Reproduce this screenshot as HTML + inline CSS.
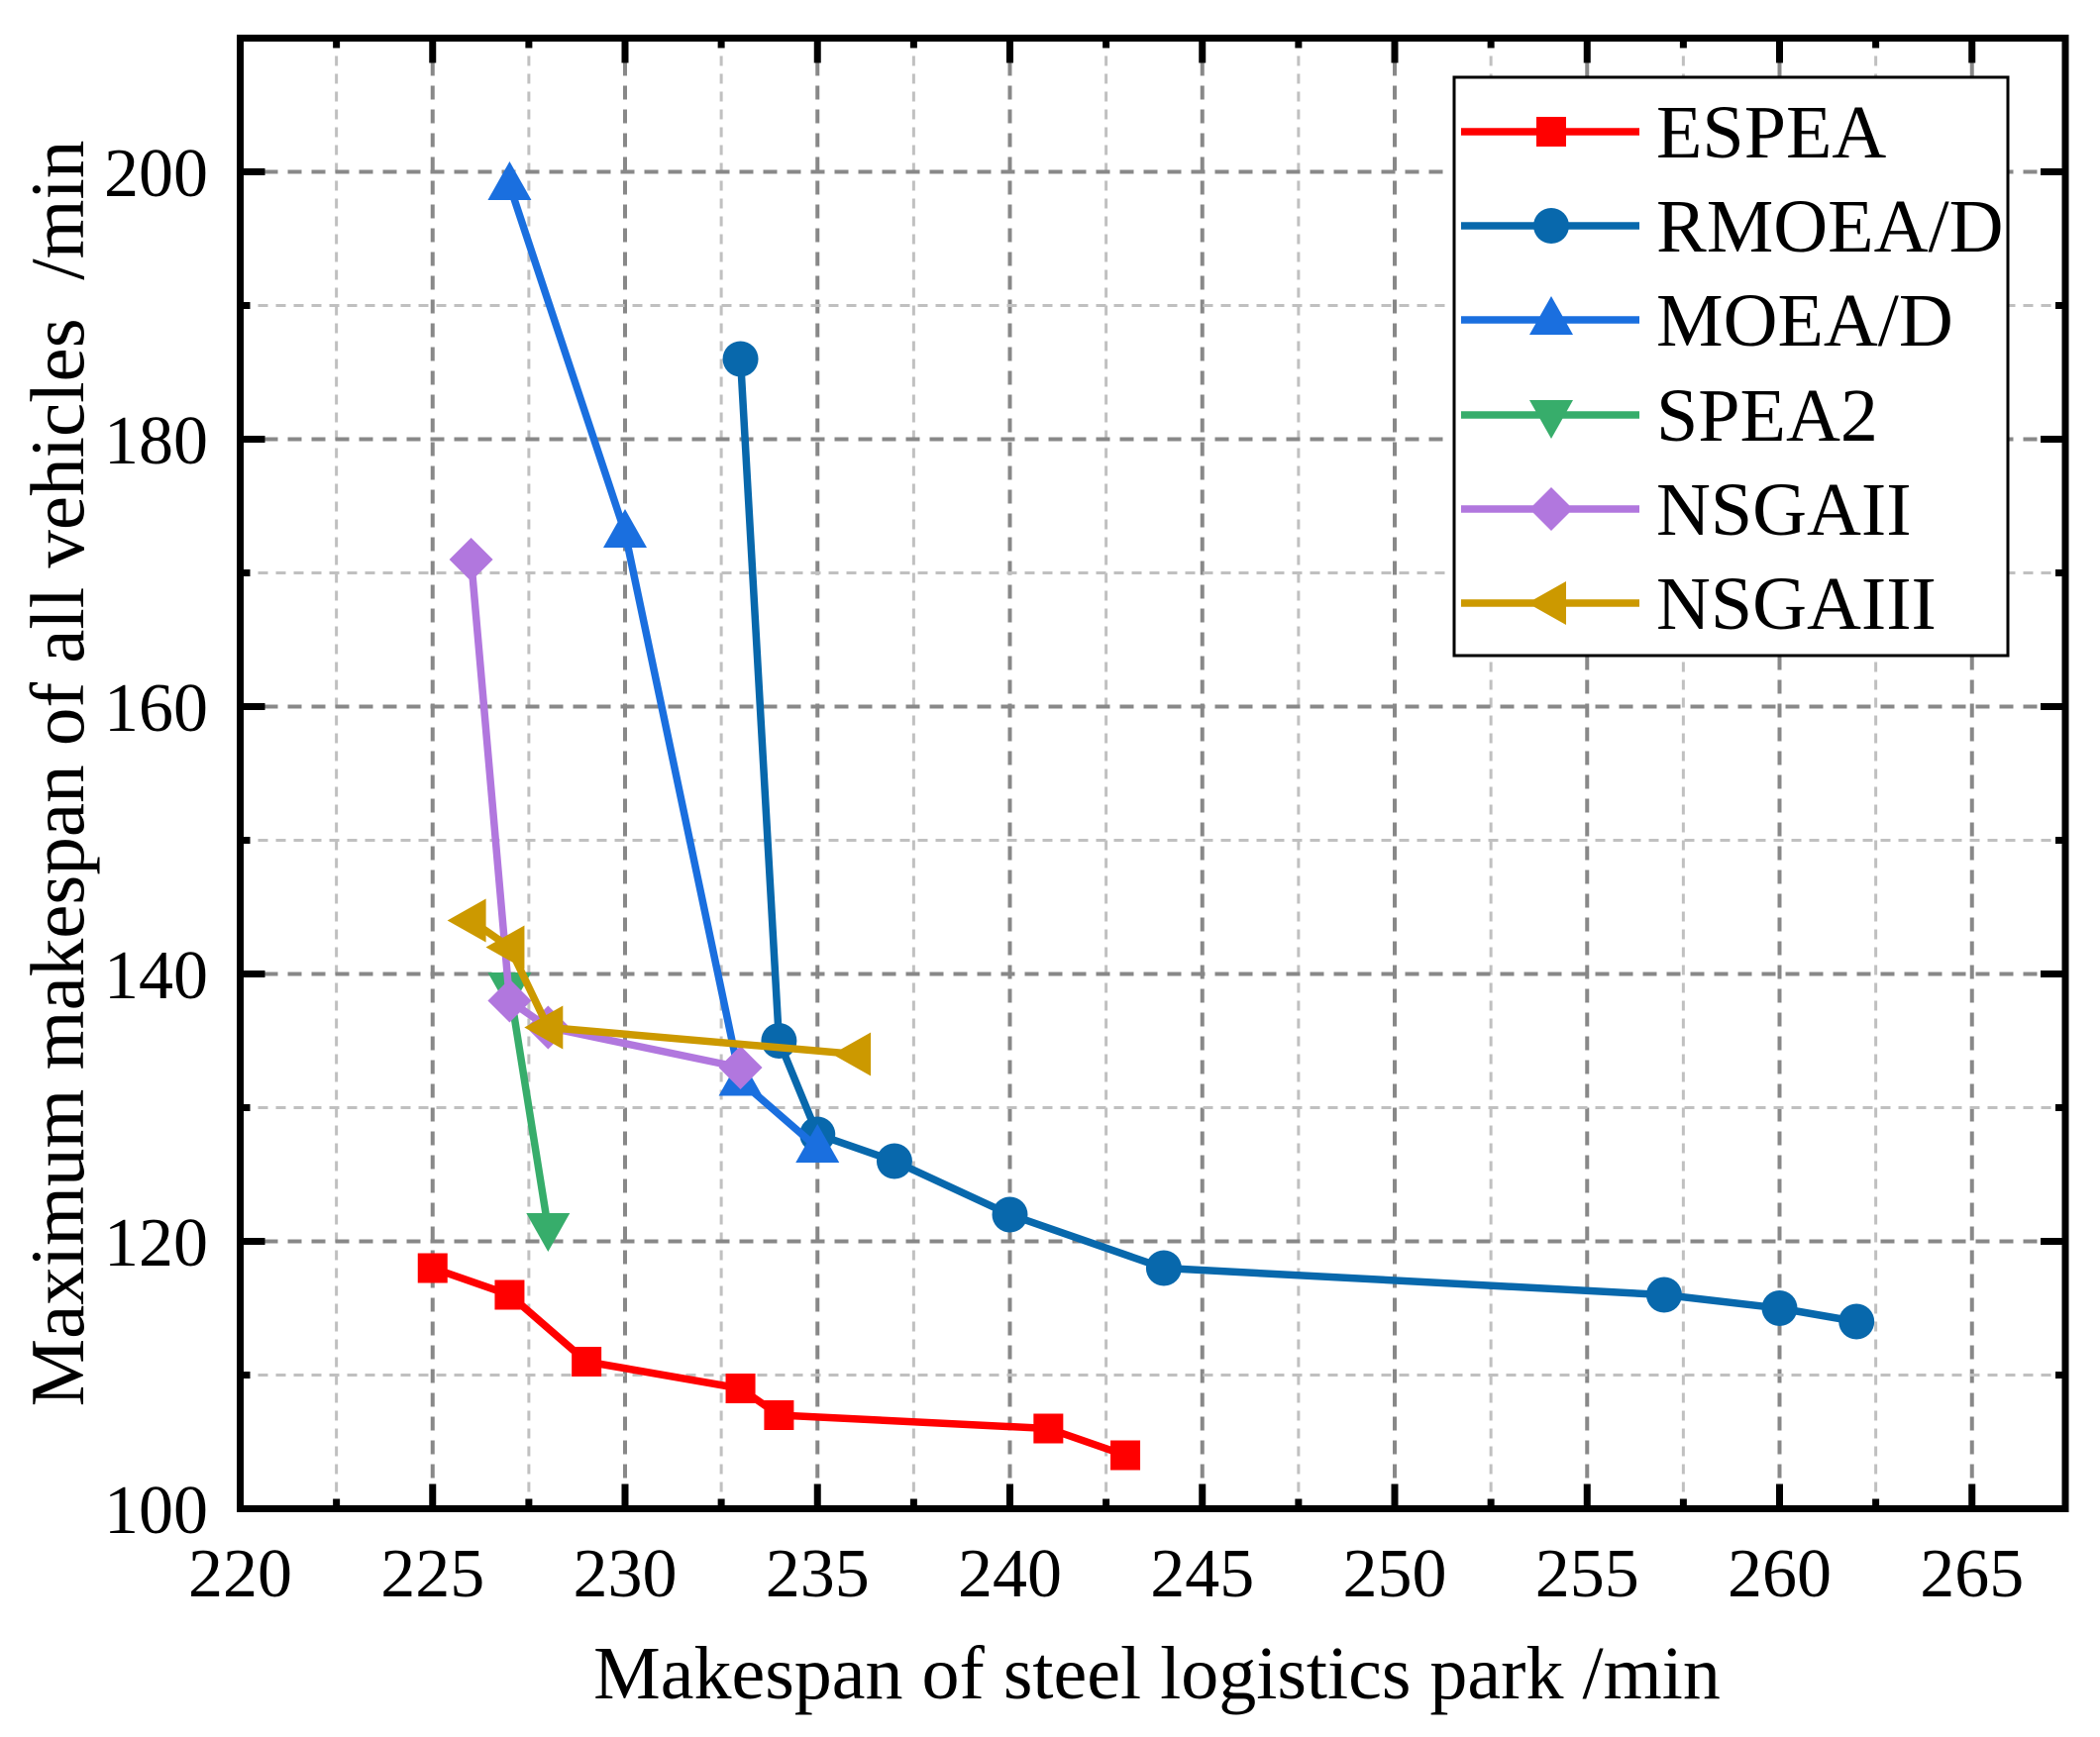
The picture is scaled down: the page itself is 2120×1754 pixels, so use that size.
<!DOCTYPE html>
<html><head><meta charset="utf-8"><style>
html,body{margin:0;padding:0;background:#fff;}
svg{display:block;}
text{font-family:"Liberation Serif",serif;fill:#000;}
</style></head><body>
<svg id="s" width="2120" height="1754" viewBox="0 0 2120 1754" xmlns="http://www.w3.org/2000/svg">
<rect width="2120" height="1754" fill="#fff"/>
<g id="grid"></g>
<g id="series"></g>
<g id="axes"></g>
<g font-size="70" text-anchor="middle">
<text x="242.5" y="1612">220</text><text x="436.8" y="1612">225</text><text x="631" y="1612">230</text>
<text x="825.3" y="1612">235</text><text x="1019.5" y="1612">240</text><text x="1213.8" y="1612">245</text>
<text x="1408" y="1612">250</text><text x="1602.3" y="1612">255</text><text x="1796.5" y="1612">260</text>
<text x="1990.8" y="1612">265</text>
</g>
<g font-size="70" text-anchor="end">
<text x="210" y="1548">100</text><text x="210" y="1278">120</text><text x="210" y="1008">140</text>
<text x="210" y="738">160</text><text x="210" y="468">180</text><text x="210" y="198">200</text>
</g>
<text x="1168" y="1715" font-size="76" text-anchor="middle">Makespan of steel logistics park /min</text>
<text transform="translate(84,781) rotate(-90)" font-size="77" text-anchor="middle" xml:space="preserve">Maximum makespan of all vehicles  /min</text>
<rect x="1468" y="78" width="559" height="584" fill="#fff" stroke="#000" stroke-width="3"/>
<g id="leg"></g>
<g font-size="76">
<text x="1672" y="159">ESPEA</text>
<text x="1672" y="254">RMOEA/D</text>
<text x="1672" y="349">MOEA/D</text>
<text x="1672" y="445">SPEA2</text>
<text x="1672" y="540">NSGAII</text>
<text x="1672" y="635">NSGAIII</text>
</g>
</svg>
<script>
var NS="http://www.w3.org/2000/svg";
function X(v){return 242.5+(v-220)*38.85;}
function Y(v){return 1523.5-(v-100)*13.5;}
function el(p,t,a){var e=document.createElementNS(NS,t);for(var k in a)e.setAttribute(k,a[k]);p.appendChild(e);return e;}
var L=242.5,R=2085,T=38.5,B=1523.5;
var g=document.getElementById('grid');
for(var v=222.5;v<268;v+=2.5){var maj=Math.abs(v%5)<0.01;var x=X(v);if(x>R-5)break;
 el(g,'line',{x1:x,y1:T,x2:x,y2:B,stroke:maj?'#888':'#c0c0c0','stroke-width':maj?4:3,'stroke-dasharray':maj?'14,10':'10,8'});}
for(var v=110;v<=210;v+=10){var maj=v%20==0;var y=Y(v);
 el(g,'line',{x1:L,y1:y,x2:R,y2:y,stroke:maj?'#888':'#c0c0c0','stroke-width':maj?4:3,'stroke-dasharray':maj?'14,10':'10,8'});}
var a=document.getElementById('axes');
for(var v=220;v<268;v+=2.5){var maj=Math.abs(v%5)<0.01;var x=X(v);if(x>R-5)break;var l=maj?25:10;
 el(a,'line',{x1:x,y1:B,x2:x,y2:B-l,stroke:'#000','stroke-width':7});
 el(a,'line',{x1:x,y1:T,x2:x,y2:T+l,stroke:'#000','stroke-width':7});}
for(var v=100;v<=210;v+=10){var maj=v%20==0;var y=Y(v);var l=maj?25:10;
 el(a,'line',{x1:L,y1:y,x2:L+l,y2:y,stroke:'#000','stroke-width':7});
 el(a,'line',{x1:R,y1:y,x2:R-l,y2:y,stroke:'#000','stroke-width':7});}
el(a,'rect',{x:L,y:T,width:R-L,height:B-T,fill:'none',stroke:'#000','stroke-width':7});
function marker(p,t,x,y,c){
 if(t=='sq')el(p,'rect',{x:x-15,y:y-15,width:30,height:30,fill:c});
 else if(t=='ci')el(p,'circle',{cx:x,cy:y,r:18,fill:c});
 else if(t=='up')el(p,'polygon',{points:(x)+','+(y-24)+' '+(x-22)+','+(y+15)+' '+(x+22)+','+(y+15),fill:c});
 else if(t=='dn')el(p,'polygon',{points:(x)+','+(y+24)+' '+(x-22)+','+(y-15)+' '+(x+22)+','+(y-15),fill:c});
 else if(t=='di')el(p,'polygon',{points:x+','+(y-22)+' '+(x+22)+','+y+' '+x+','+(y+22)+' '+(x-22)+','+y,fill:c});
 else if(t=='lf')el(p,'polygon',{points:(x-24)+','+y+' '+(x+15)+','+(y-22)+' '+(x+15)+','+(y+22),fill:c});
}
var S=[
 ['#ff0000','sq',[[225,118],[227,116],[229,111],[233,109],[234,107],[241,106],[243,104]]],
 ['#0868ac','ci',[[233,186],[234,135],[235,128],[237,126],[240,122],[244,118],[257,116],[260,115],[262,114]]],
 ['#1a6fdf','up',[[227,199],[230,173],[233,132],[235,127]]],
 ['#37ad6b','dn',[[227,139],[228,121]]],
 ['#b177de','di',[[226,171],[227,138],[228,136],[233,133]]],
 ['#cc9900','lf',[[226,144],[227,142],[228,136],[236,134]]]
];
var sg=document.getElementById('series'),lg=document.getElementById('leg');
var ly=[133,228,323,419,514,609];
S.forEach(function(s,i){
 var pts=s[2].map(function(p){return X(p[0])+','+Y(p[1]);}).join(' ');
 el(sg,'polyline',{points:pts,fill:'none',stroke:s[0],'stroke-width':7.5,'stroke-linejoin':'round'});
 s[2].forEach(function(p){marker(sg,s[1],X(p[0]),Y(p[1]),s[0]);});
 el(lg,'line',{x1:1475,y1:ly[i],x2:1655,y2:ly[i],stroke:s[0],'stroke-width':7.5});
 marker(lg,s[1],1566,ly[i],s[0]);
});
</script>
</body></html>
